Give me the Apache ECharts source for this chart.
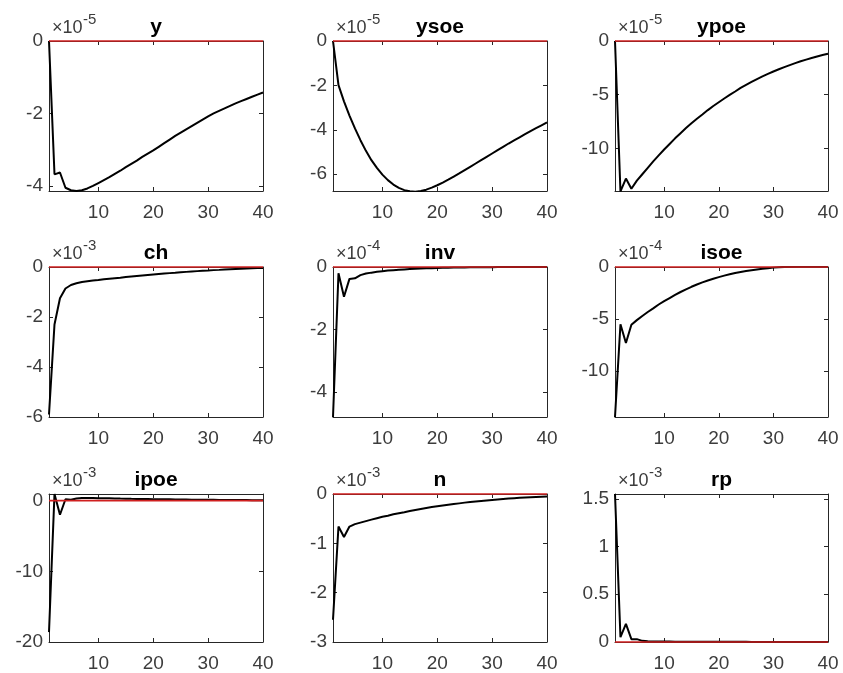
<!DOCTYPE html>
<html><head><meta charset="utf-8">
<script src="https://cdn.jsdelivr.net/npm/echarts@6/dist/echarts.min.js"></script>
<style>html,body{margin:0;padding:0;background:#fff}#c{width:843px;height:673px}</style>
</head><body><div id="c"></div>
<script>
// ---- data ----
const horizon = [1,2,3,4,5,6,7,8,9,10,11,12,13,14,15,16,17,18,19,20,21,22,23,24,25,26,27,28,29,30,31,32,33,34,35,36,37,38,39,40];
const xTicks = [10,20,30,40];
const panelNames = ['y','ysoe','ypoe','ch','inv','isoe','ipoe','n','rp'];
const panelExponents = ['-5','-5','-5','-3','-4','-4','-3','-3','-3'];

const irf_y    = [0,-3.68,-3.63,-4.05,-4.12,-4.14,-4.12,-4.07,-4.00,-3.92,-3.84,-3.76,-3.67,-3.58,-3.48,-3.39,-3.30,-3.20,-3.11,-3.02,-2.92,-2.82,-2.72,-2.62,-2.53,-2.44,-2.35,-2.26,-2.17,-2.08,-2.00,-1.93,-1.86,-1.79,-1.72,-1.66,-1.60,-1.54,-1.48,-1.42];
const irf_ysoe = [0,-1.99,-2.72,-3.36,-3.94,-4.47,-4.95,-5.37,-5.72,-6.02,-6.27,-6.47,-6.62,-6.72,-6.77,-6.79,-6.76,-6.70,-6.61,-6.50,-6.38,-6.25,-6.11,-5.97,-5.82,-5.67,-5.52,-5.37,-5.22,-5.07,-4.92,-4.77,-4.62,-4.48,-4.34,-4.20,-4.06,-3.93,-3.80,-3.67];
const irf_ypoe = [0,-14.0,-12.8,-13.75,-13.0,-12.4,-11.8,-11.2,-10.65,-10.1,-9.58,-9.06,-8.58,-8.1,-7.66,-7.24,-6.84,-6.43,-6.05,-5.70,-5.35,-5.02,-4.70,-4.36,-4.08,-3.81,-3.54,-3.29,-3.06,-2.84,-2.63,-2.43,-2.24,-2.06,-1.89,-1.73,-1.58,-1.44,-1.31,-1.19];
const irf_ch   = [-5.9,-2.3,-1.25,-0.86,-0.72,-0.65,-0.60,-0.57,-0.54,-0.52,-0.49,-0.47,-0.45,-0.43,-0.40,-0.38,-0.36,-0.34,-0.32,-0.30,-0.28,-0.26,-0.245,-0.23,-0.21,-0.195,-0.18,-0.165,-0.15,-0.14,-0.125,-0.115,-0.10,-0.09,-0.08,-0.07,-0.06,-0.05,-0.045,-0.04];
const irf_inv  = [-4.79,-0.2,-0.95,-0.38,-0.36,-0.26,-0.21,-0.18,-0.155,-0.135,-0.115,-0.10,-0.088,-0.076,-0.066,-0.057,-0.049,-0.042,-0.036,-0.03,-0.026,-0.022,-0.018,-0.015,-0.012,-0.01,-0.008,-0.006,-0.005,-0.004,-0.003,-0.002,-0.002,-0.001,-0.001,0,0,0,0,0];
const irf_isoe = [-14.4,-5.5,-7.3,-5.55,-5.1,-4.7,-4.32,-3.97,-3.6,-3.28,-2.98,-2.68,-2.40,-2.14,-1.90,-1.68,-1.48,-1.30,-1.13,-0.97,-0.83,-0.70,-0.58,-0.48,-0.39,-0.31,-0.24,-0.17,-0.11,-0.06,-0.02,0.01,0.03,0.05,0.06,0.07,0.07,0.08,0.08,0.08];
const irf_ipoe = [-18.6,0.93,-2.0,0.2,0.12,0.3,0.36,0.37,0.36,0.35,0.34,0.33,0.31,0.29,0.28,0.26,0.25,0.23,0.22,0.21,0.2,0.19,0.18,0.17,0.16,0.15,0.14,0.13,0.12,0.12,0.11,0.1,0.1,0.09,0.09,0.08,0.08,0.07,0.07,0.06];
const irf_n    = [-2.55,-0.66,-0.87,-0.66,-0.61,-0.58,-0.55,-0.52,-0.49,-0.46,-0.44,-0.41,-0.39,-0.37,-0.345,-0.325,-0.305,-0.285,-0.265,-0.25,-0.235,-0.22,-0.205,-0.19,-0.175,-0.16,-0.15,-0.14,-0.13,-0.12,-0.11,-0.10,-0.092,-0.085,-0.078,-0.072,-0.066,-0.06,-0.055,-0.05];
const irf_rp   = [1.55,0.05,0.19,0.03,0.03,0.012,0.008,0.006,0.005,0.004,0.004,0.003,0.003,0.003,0.002,0.002,0.002,0.002,0.002,0.002,0.002,0.002,0.002,0.002,0.002,0.001,0.001,0.001,0.001,0.001,0.001,0.001,0.001,0.001,0.001,0.001,0.001,0.001,0.001,0.001];

const yMin = [-4.14,-6.76,-13.96,-6,-4.79,-14.4,-20,-3,0];
const yMax = [0,0,0,0,0,0,0.94,0,1.55];
const yTicks = [[0,-2,-4],[0,-2,-4,-6],[0,-5,-10],[0,-2,-4,-6],[0,-2,-4],[0,-5,-10],[0,-10,-20],[0,-1,-2,-3],[0,0.5,1,1.5]];
const zeroLevel = 0;

const seriesValues = [irf_y,irf_ysoe,irf_ypoe,irf_ch,irf_inv,irf_isoe,irf_ipoe,irf_n,irf_rp];

// ---- layout ----
const colLeft = [49,333,615], colWidth = [214,214,213];
const rowTop = [41,267,494], rowHeight = [150,150,149];
const FONT = '"Liberation Sans", Arial, Helvetica, sans-serif';
const TXT = '#3c3c3c', AX = '#262626';

const grids = [], xAxes = [], yAxes = [], series = [], graphics = [];
for (let i = 0; i < 9; i++) {
  const r = Math.floor(i / 3), c = i % 3;
  const L = colLeft[c], T = rowTop[r], W = colWidth[c], H = rowHeight[r];
  grids.push({left: L, top: T, width: W, height: H, containLabel: false});
  const axLine = {show: true, onZero: false, lineStyle: {color: AX, width: 1}};
  xAxes.push({gridIndex: i, type: 'value', position: 'bottom', min: 1, max: 40,
    axisLine: axLine,
    axisTick: {show: true, inside: true, length: 4, customValues: xTicks, lineStyle: {color: AX}},
    axisLabel: {show: true, customValues: xTicks, fontSize: 19, fontFamily: FONT, color: TXT, margin: 12},
    splitLine: {show: false}});
  xAxes.push({gridIndex: i, type: 'value', position: 'top', min: 1, max: 40,
    axisLine: axLine,
    axisTick: {show: true, inside: true, length: 4, customValues: xTicks, lineStyle: {color: AX}},
    axisLabel: {show: false}, splitLine: {show: false}});
  yAxes.push({gridIndex: i, type: 'value', position: 'left', min: yMin[i], max: yMax[i],
    axisLine: axLine,
    axisTick: {show: true, inside: true, length: 4, customValues: yTicks[i], lineStyle: {color: AX}},
    axisLabel: {show: true, customValues: yTicks[i], fontSize: 19, fontFamily: FONT, color: TXT, margin: 6},
    splitLine: {show: false}});
  yAxes.push({gridIndex: i, type: 'value', position: 'right', min: yMin[i], max: yMax[i],
    axisLine: axLine,
    axisTick: {show: true, inside: true, length: 4, customValues: yTicks[i], lineStyle: {color: AX}},
    axisLabel: {show: false}, splitLine: {show: false}});
  series.push({type: 'line', xAxisIndex: 2 * i, yAxisIndex: 2 * i,
    data: horizon.map((x, k) => [x, seriesValues[i][k]]),
    showSymbol: false, symbol: 'none', clip: true,
    lineStyle: {color: '#000', width: 2}, z: 2});
  series.push({type: 'line', xAxisIndex: 2 * i, yAxisIndex: 2 * i,
    data: [[horizon[0], zeroLevel], [horizon[horizon.length - 1], zeroLevel]],
    showSymbol: false, symbol: 'none', clip: false,
    lineStyle: {color: '#d02020', width: 1.6}, z: 3});
  graphics.push({type: 'text', x: L + W / 2, y: T - 14,
    style: {text: panelNames[i], font: 'bold 21px ' + FONT, fill: '#000', textAlign: 'center', textVerticalAlign: 'middle'}});
  graphics.push({type: 'text', x: L + 3, y: T - 13,
    style: {text: '\u00d710', font: '18px ' + FONT, fill: TXT, textAlign: 'left', textVerticalAlign: 'middle'}});
  graphics.push({type: 'text', x: L + 34, y: T - 21,
    style: {text: panelExponents[i], font: '15px ' + FONT, fill: TXT, textAlign: 'left', textVerticalAlign: 'middle'}});
}

const chart = echarts.init(document.getElementById('c'), null, {renderer: 'canvas'});
chart.setOption({
  animation: false,
  backgroundColor: '#fff',
  grid: grids, xAxis: xAxes, yAxis: yAxes, series: series, graphic: graphics
});
</script></body></html>
